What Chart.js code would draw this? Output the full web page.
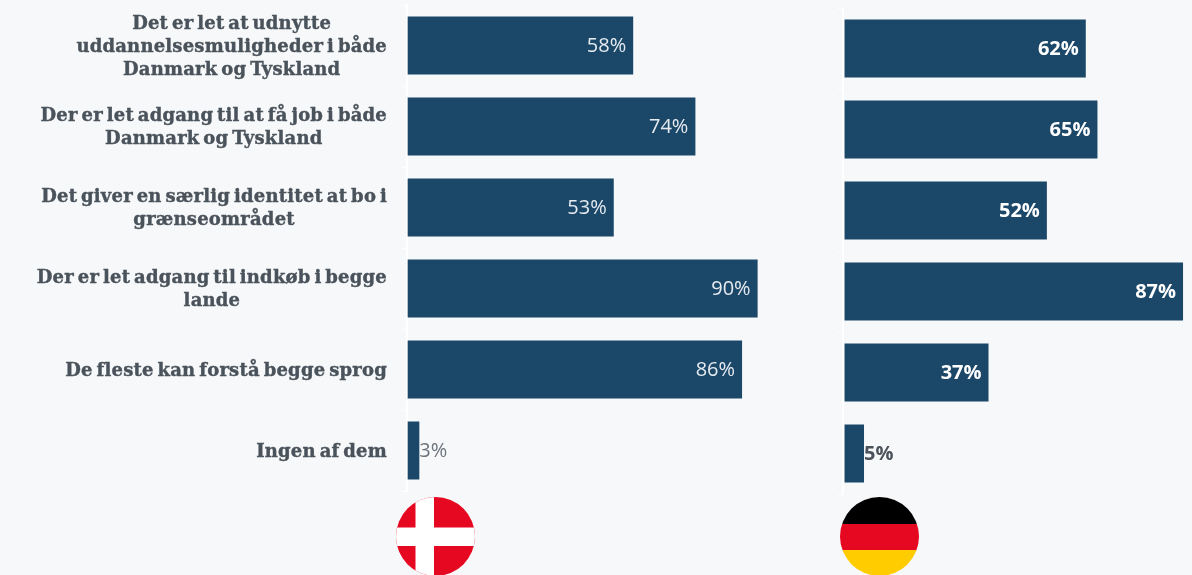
<!DOCTYPE html>
<html lang="da">
<head>
<meta charset="utf-8">
<title>Grænseområdet</title>
<script src="https://cdn.jsdelivr.net/npm/chart.js@4"></script>
<style>
    html, body { margin: 0; padding: 0; background: #f7f8fa; overflow: hidden; }
    #wrap { position: relative; width: 1192px; height: 575px; overflow: hidden; }
    canvas, svg { position: absolute; top: 0; }
    #chartDk { left: 0; }
    #chartDe { left: 800px; }
    #flagDk { left: 396px; top: 497px; }
    #flagDe { left: 840px; top: 497px; }
</style>
</head>
<body>
<div id="wrap">
    <canvas id="chartDk" width="800" height="575"></canvas>
    <canvas id="chartDe" width="392" height="575"></canvas>
    <svg id="flagDk" width="79" height="79" viewBox="0 0 79 79">
        <clipPath id="clipDk"><circle cx="39.5" cy="39.5" r="39.5"/></clipPath>
        <g clip-path="url(#clipDk)">
            <rect width="79" height="79" fill="#e60721"/>
            <rect x="19.5" width="18.5" height="79" fill="#fff"/>
            <rect y="30.5" width="79" height="18.5" fill="#fff"/>
        </g>
    </svg>
    <svg id="flagDe" width="79" height="79" viewBox="0 0 79 79">
        <clipPath id="clipDe"><circle cx="39.5" cy="39.5" r="39.5"/></clipPath>
        <g clip-path="url(#clipDe)">
            <rect width="79" height="27" fill="#000"/>
            <rect y="27" width="79" height="26" fill="#e60721"/>
            <rect y="53" width="79" height="26" fill="#ffcc00"/>
        </g>
    </svg>
</div>
<script>
// --- data ---
const categories = [
    ['Det er let at udnytte', 'uddannelsesmuligheder i både', 'Danmark og Tyskland'],
    ['Der er let adgang til at få job i både', 'Danmark og Tyskland'],
    ['Det giver en særlig identitet at bo i', 'grænseområdet'],
    ['Der er let adgang til indkøb i begge', 'lande'],
    ['De fleste kan forstå begge sprog'],
    ['Ingen af dem']
];
const valuesDenmark = [58, 74, 53, 90, 86, 3];
const valuesGermany = [62, 65, 52, 87, 37, 5];

const BAR_COLOR = '#1b4769';
const LABEL_FONT = 'bold 18px "DejaVu Serif"';
const LABEL_COLOR = '#4a535b';

// category text, centred inside a right aligned block
const categoryLabels = {
    id: 'categoryLabels',
    afterDraw(chart) {
        const { ctx, scales: { y } } = chart;
        ctx.save();
        ctx.font = LABEL_FONT;
        ctx.letterSpacing = '0.2px';
        ctx.wordSpacing = '-2.6px';
        ctx.fillStyle = LABEL_COLOR;
        ctx.strokeStyle = LABEL_COLOR;
        ctx.lineWidth = 0.4;
        ctx.textAlign = 'center';
        ctx.textBaseline = 'middle';
        categories.forEach((lines, i) => {
            const blockW = Math.max(...lines.map(l => ctx.measureText(l).width));
            const cx = 387 - blockW / 2;
            const top = y.getPixelForTick(i) + 1.5 - (lines.length - 1) * 23 / 2;
            lines.forEach((line, j) => {
                ctx.fillText(line, cx, top + j * 23);
                ctx.strokeText(line, cx, top + j * 23);
            });
        });
        ctx.restore();
    }
};

// value labels: inside the bar end, outside for the tiny ones
const valueLabels = {
    id: 'valueLabels',
    afterDatasetsDraw(chart, args, opts) {
        const { ctx } = chart;
        const values = chart.data.datasets[0].data;
        ctx.save();
        ctx.font = opts.font;
        ctx.textBaseline = 'middle';
        chart.getDatasetMeta(0).data.forEach((bar, i) => {
            const inside = values[i] > 10;
            ctx.textAlign = inside ? 'right' : 'left';
            ctx.fillStyle = inside ? opts.insideColor : opts.outsideColor;
            ctx.fillText(values[i] + '%', bar.x + (inside ? -7 : 0), bar.y + 1);
        });
        ctx.restore();
    }
};

function makeChart(canvasId, values, xMin, xMax, axisWidth, padding, labelOpts, extraPlugins) {
    return new Chart(document.getElementById(canvasId), {
        type: 'bar',
        data: {
            labels: categories.map(lines => lines.join(' ')),
            datasets: [{
                data: values,
                backgroundColor: BAR_COLOR,
                barPercentage: 0.716,
                categoryPercentage: 1
            }]
        },
        options: {
            indexAxis: 'y',
            responsive: false,
            animation: false,
            layout: { padding: padding },
            scales: {
                x: { display: false, min: xMin, max: xMax },
                y: {
                    afterFit: scale => { scale.width = axisWidth; },
                    border: { color: '#ffffff', width: 2 },
                    grid: { color: '#ffffff', drawOnChartArea: false, tickLength: 5 },
                    ticks: { display: false }
                }
            },
            plugins: {
                legend: { display: false },
                tooltip: { enabled: false },
                valueLabels: labelOpts
            }
        },
        plugins: [valueLabels].concat(extraPlugins)
    });
}

makeChart('chartDk', valuesDenmark, -0.3, 100, 406.5, { top: 5, bottom: 84, right: 3.5 }, {
    font: '400 20px "Open Sans"',
    insideColor: '#e6ebf0',
    outsideColor: '#6b747b'
}, [categoryLabels]);

makeChart('chartDe', valuesGermany, -0.4, 89.3, 43, { top: 8, bottom: 81 }, {
    font: '700 20px "Open Sans"',
    insideColor: '#ffffff',
    outsideColor: '#4a535b'
}, []);
</script>
</body>
</html>
